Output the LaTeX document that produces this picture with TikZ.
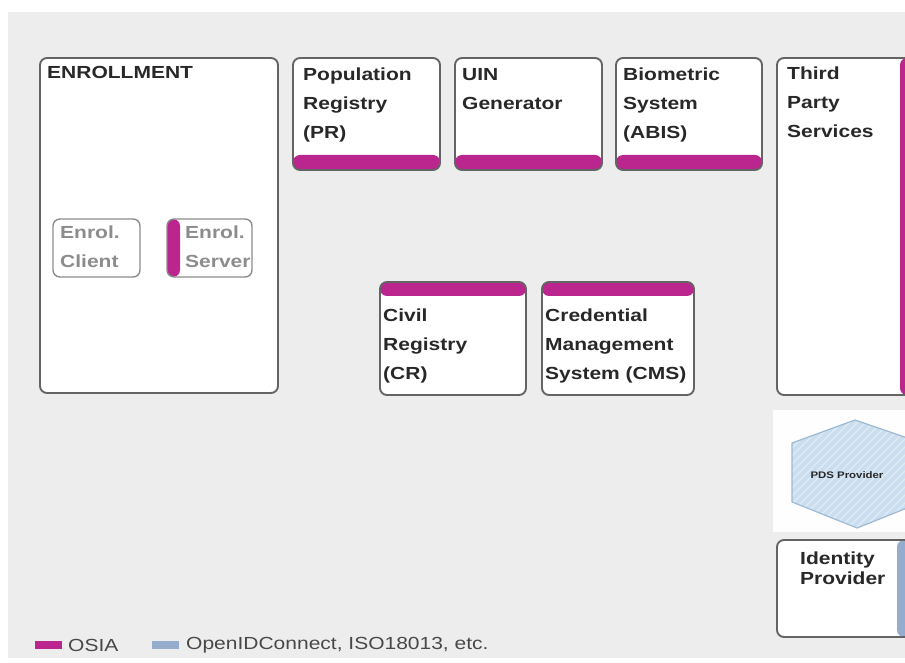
\documentclass[tikz,border=0pt]{standalone}
\usepackage{fontspec}
\setmainfont{Liberation Sans}[FakeStretch=1.2]

\definecolor{osia}{RGB}{186,38,142}
\definecolor{oidc}{RGB}{150,172,205}
\definecolor{panel}{RGB}{237,237,237}
\definecolor{edge}{RGB}{100,100,100}
\definecolor{subedge}{RGB}{140,140,140}
\definecolor{ink}{RGB}{40,40,40}
\definecolor{faded}{RGB}{140,140,140}
\definecolor{hexfill}{RGB}{203,222,239}
\definecolor{hexedge}{RGB}{158,186,210}

\tikzset{
  comp/.style={draw=edge, line width=1.9pt, fill=white, rounded corners=7pt,
    anchor=north west, inner sep=0pt, outer sep=0pt},
  subcomp/.style={draw=subedge, line width=1.4pt, fill=white, rounded corners=7pt,
    anchor=north west, inner sep=0pt, outer sep=0pt},
  lbl/.style={anchor=north west, inner sep=0pt, align=left, text=ink,
    font=\bfseries\fontsize{17.5}{29}\selectfont},
  sublbl/.style={lbl, text=faded},
  legendtxt/.style={anchor=west, inner sep=0pt, text=ink!85,
    font=\fontsize{17.5}{20}\selectfont},
  swatch/.style={anchor=west, inner sep=0pt, minimum width=27pt, minimum height=8pt},
  bandbottom/.style={path picture={\fill[osia] (path picture bounding box.south west)
    rectangle ([yshift=#1]path picture bounding box.south east);}},
  bandtop/.style={path picture={\fill[osia] (path picture bounding box.north west)
    rectangle ([yshift=-#1]path picture bounding box.north east);}},
  bandleft/.style={path picture={\fill[osia] (path picture bounding box.south west)
    rectangle ([xshift=#1]path picture bounding box.north west);}},
  bandright/.style 2 args={path picture={\fill[#2] ([xshift=-#1]path picture bounding box.south east)
    rectangle (path picture bounding box.north east);}},
}

\begin{document}
\begin{tikzpicture}[x=1pt, y=1pt]
  \useasboundingbox (0,0) rectangle (905,662);
  \clip (0,0) rectangle (905,662);
  \fill[white] (0,0) rectangle (905,662);
  % grey canvas
  \fill[panel] (8,4) rectangle (910,650);

  % enrollment
  \node[comp, minimum width=238pt, minimum height=335pt] (enroll) at (40,604) {};
  \node[lbl] (enrollt) at (47,596) {ENROLLMENT};
  \node[subcomp, minimum width=87pt, minimum height=58pt] (client) at (53,443) {};
  \node[sublbl] (clientt) at (60,436) {Enrol.\\Client};
  \node[subcomp, bandleft=13pt, minimum width=85pt, minimum height=58pt] (server) at (167,443) {};
  \node[sublbl] (servert) at (185,436) {Enrol.\\Server};

  % registries along the top
  \node[comp, bandbottom=15pt, minimum width=147pt, minimum height=112pt] (pr) at (293,604) {};
  \node[lbl] (prt) at (303,594) {Population\\Registry\\(PR)};
  \node[comp, bandbottom=15pt, minimum width=147pt, minimum height=112pt] (uin) at (455,604) {};
  \node[lbl] (uint) at (462,594) {UIN\\Generator};
  \node[comp, bandbottom=15pt, minimum width=146pt, minimum height=112pt] (abis) at (616,604) {};
  \node[lbl] (abist) at (623,594) {Biometric\\System\\(ABIS)};

  % third party services
  \node[comp, bandright={17pt}{osia}, minimum width=140pt, minimum height=337pt] (tps) at (777,604) {};
  \node[lbl] (tpst) at (787,595) {Third\\Party\\Services};

  % civil registry and credential management
  \node[comp, bandtop=14pt, minimum width=146pt, minimum height=113pt] (cr) at (380,380) {};
  \node[lbl] (crt) at (383,353) {Civil\\Registry\\(CR)};
  \node[comp, bandtop=14pt, minimum width=152pt, minimum height=113pt] (cms) at (542,380) {};
  \node[lbl] (cmst) at (545,353) {Credential\\Management\\System (CMS)};

  % provider hexagon on its light tile
  \fill[white!97!panel] (773,130) rectangle (910,252);
  \fill[hexfill] (855,242) -- (792,219) -- (792,160) -- (857,134) -- (922,160) -- (922,219) -- cycle;
  \begin{scope}
    \clip (855,242) -- (792,219) -- (792,160) -- (857,134) -- (922,160) -- (922,219) -- cycle;
    \foreach \i in {-140,-132,...,140}
      \draw[white, opacity=0.4, line width=1.2pt] (790+\i,120) -- ++(140,140);
  \end{scope}
  \draw[hexedge, line width=1.2pt] (855,242) -- (792,219) -- (792,160) -- (857,134) -- (922,160) -- (922,219) -- cycle;
  \node[inner sep=0pt, text=ink, font=\bfseries\fontsize{9.5}{11}\selectfont] (pds) at (847,187) {PDS Provider};

  % identity provider
  \node[comp, bandright={20pt}{oidc}, minimum width=140pt, minimum height=97pt] (idp) at (777,122) {};
  \node[lbl, font=\bfseries\fontsize{17.5}{20}\selectfont] (idpt) at (800,110) {Identity\\Provider};

  % legend
  \node[swatch, fill=osia] (kosia) at (35,17) {};
  \node[legendtxt] (kosiat) at (68,17) {OSIA};
  \node[swatch, fill=oidc] (koidc) at (152,17) {};
  \node[legendtxt] (koidct) at (186,17) {OpenIDConnect, ISO18013, etc.};
\end{tikzpicture}
\end{document}
